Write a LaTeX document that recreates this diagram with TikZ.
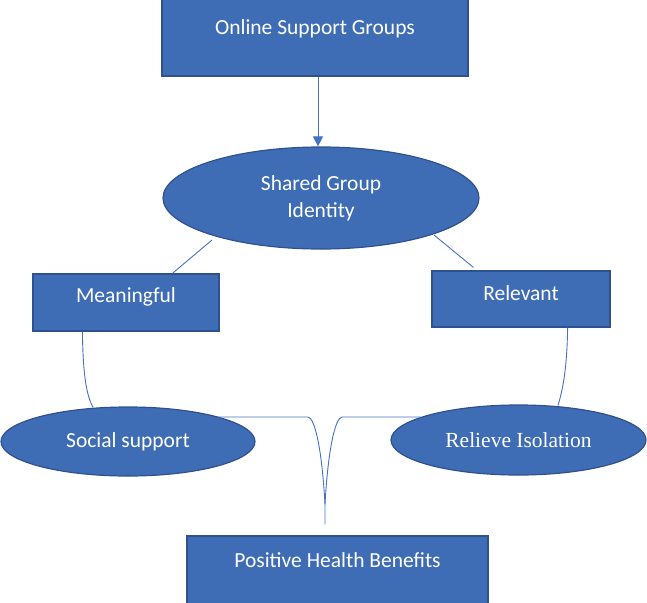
\documentclass[tikz,border=0pt]{standalone}
\usepackage{fontspec}
\setmainfont{Carlito}
\newfontfamily\timesfont{Liberation Serif}
\usepackage{tikz}
\usetikzlibrary{arrows.meta,positioning,calc,shapes.geometric}
\definecolor{boxfill}{HTML}{3E6DB5}
\definecolor{boxedge}{HTML}{2F528F}
\definecolor{linkblue}{HTML}{4472C4}

\begin{document}
\begin{tikzpicture}[x=1pt,y=-1pt,>={Triangle[width=10pt,length=10pt]},
  box/.style={rectangle,fill=boxfill,draw=boxedge,line width=1.2pt,inner sep=0pt},
  oval/.style={ellipse,fill=boxfill,draw=boxedge,line width=1.2pt,inner sep=0pt,
    text=white,font=\fontsize{21.5}{27}\selectfont,align=center},
  txt/.style={text=white,font=\fontsize{21.5}{27}\selectfont,inner sep=0pt},
  link/.style={draw=linkblue,line width=0.9pt}]
  \useasboundingbox (0,0) rectangle (647,602);
  \node[box,minimum width=306,minimum height=78,
    label={[txt,yshift=8pt]center:Online Support Groups}] (osg) at (315,37) {};
  \node[oval,minimum width=316,minimum height=102] (sgi) at (321,198) {Shared Group\\Identity};
  \node[box,minimum width=186,minimum height=57,
    label={[txt,yshift=5.5pt]center:Meaningful}] (mean) at (126,302.5) {};
  \node[box,minimum width=178,minimum height=56,
    label={[txt,yshift=6pt]center:Relevant}] (rel) at (521,299) {};
  \node[oval,minimum width=254,minimum height=69] (soc) at (128,441.5) {Social support};
  \node[oval,minimum width=255,minimum height=70,font=\timesfont\fontsize{21.5}{27}\selectfont]
    (iso) at (518.5,440) {Relieve Isolation};
  \node[box,minimum width=301,minimum height=68,
    label={[txt,yshift=10pt]center:Positive Health Benefits}] (phb) at (337.5,570) {};
  \coordinate (tip) at ($(phb.north)+(-12.5,-11)$);
  \coordinate (mid) at ($(tip)+(0,-20)$);

  \draw[link,->] (osg.south -| 318,0) -- (sgi.north -| 318,0);
  \draw[link] ($(sgi.center)+(-109,42)$) -- ($(mean.north west)+(140,0)$);
  \draw[link] ($(sgi.center)+(113,37)$) -- ($(rel.north west)+(42,-3)$);
  \draw[link] ($(mean.south west)+(50,0)$) .. controls (83,378) and (87,396) .. ($(soc.north)+(-35,1)$);
  \draw[link] ($(rel.south east)+(-43,0)$) .. controls (567,372) and (562,392) .. ($(iso.north)+(39.5,1)$);
  \draw[link] ($(soc.center)+(90,-24.5)$) -- (308,417)
    .. controls (315,418) and (322,450) .. (mid) -- (tip);
  \draw[link] ($(iso.center)+(-98,-23)$) -- (342,417)
    .. controls (335,418) and (328,450) .. (mid);
\end{tikzpicture}
\end{document}
